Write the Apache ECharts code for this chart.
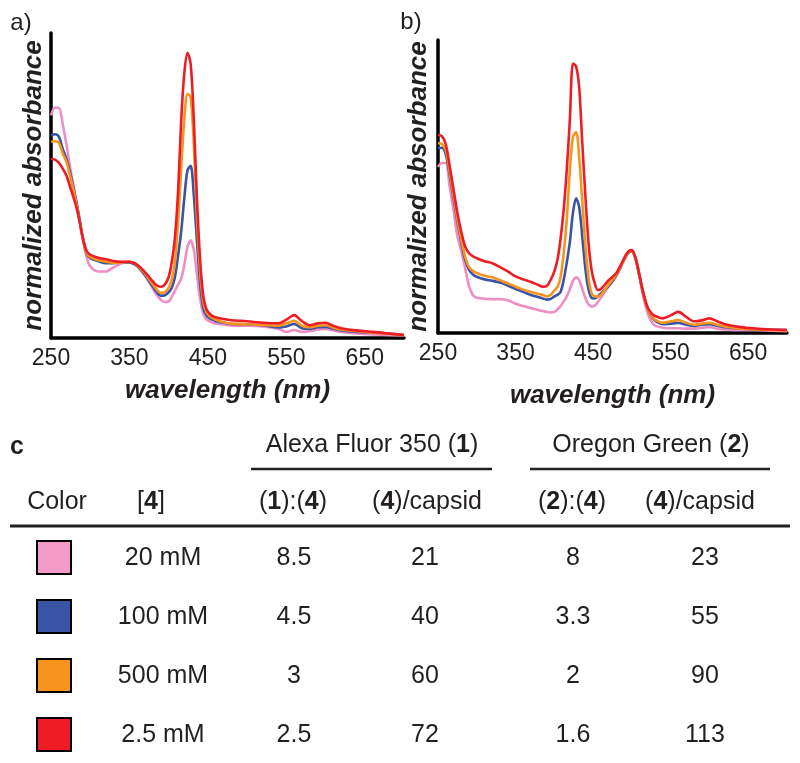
<!DOCTYPE html>
<html><head><meta charset="utf-8">
<script src="https://cdn.jsdelivr.net/npm/echarts@6/dist/echarts.min.js"></script>
<style>html,body{margin:0;padding:0;background:#fff}#c{width:800px;height:763px}</style>
</head><body><div id="c"></div>
<script>
// ---------- DATA ----------
const tickLabelsX = [250, 350, 450, 550, 650];
const seriesNames = ['20 mM', '100 mM', '500 mM', '2.5 mM'];
const lineColors = ['#F08DC2', '#3A54A5', '#F7941E', '#EE1D25'];
const swatchColors = ['#F29BC7', '#3A54A5', '#F7941E', '#EE1D25'];

// panel a) Alexa Fluor 350
const wlA = [250,255,260,265,270,275,280,285,290,295,300,310,320,330,340,350,360,370,380,385,390,395,400,404,408,412,416,420,424,428,432,436,440,444,448,452,456,460,470,480,500,520,540,550,560,570,580,590,600,610,620,640,660,680,700];
const pinkA = [.73,.755,.755,.70,.63,.55,.48,.41,.33,.27,.235,.218,.218,.232,.245,.248,.235,.205,.16,.14,.125,.118,.12,.135,.155,.175,.195,.24,.30,.32,.29,.21,.13,.08,.062,.055,.05,.048,.044,.04,.04,.038,.03,.02,.026,.02,.022,.028,.03,.025,.02,.015,.012,.01,.008];
const blueA = [.665,.668,.66,.62,.585,.535,.475,.41,.335,.28,.262,.252,.245,.245,.248,.248,.235,.205,.168,.15,.138,.14,.15,.165,.2,.27,.35,.46,.55,.565,.47,.32,.18,.10,.075,.065,.06,.055,.05,.046,.045,.042,.035,.038,.046,.032,.03,.035,.036,.03,.025,.02,.018,.015,.01];
const orangeA = [.643,.645,.64,.605,.575,.525,.47,.405,.335,.282,.266,.256,.25,.247,.248,.25,.238,.21,.175,.158,.148,.15,.165,.19,.25,.38,.56,.72,.80,.79,.64,.40,.22,.12,.085,.072,.065,.06,.052,.047,.045,.043,.04,.048,.056,.04,.035,.04,.042,.034,.028,.022,.018,.014,.01];
const redA = [.587,.585,.575,.555,.53,.49,.45,.40,.335,.288,.273,.263,.258,.252,.25,.25,.24,.215,.185,.172,.168,.175,.2,.25,.33,.48,.715,.87,.934,.90,.72,.46,.26,.14,.095,.08,.072,.068,.062,.058,.055,.05,.048,.06,.075,.055,.042,.048,.05,.04,.032,.025,.02,.015,.01];

// panel b) Oregon Green
const wlB = [250,255,260,265,270,275,280,285,290,295,300,310,320,330,340,350,360,370,380,385,390,395,400,404,408,412,416,420,424,428,432,436,440,444,448,452,456,460,470,480,490,495,500,505,510,515,520,525,530,540,550,560,570,580,590,600,610,620,640,660,680,700];
const pinkB = [.567,.58,.58,.50,.42,.33,.28,.22,.16,.13,.12,.117,.115,.115,.112,.10,.092,.085,.078,.075,.072,.07,.072,.08,.092,.108,.124,.15,.178,.19,.18,.15,.12,.098,.09,.093,.105,.12,.16,.195,.25,.272,.278,.25,.19,.12,.07,.04,.025,.018,.016,.016,.015,.015,.018,.02,.015,.012,.01,.01,.008,.006];
const blueB = [.631,.632,.61,.54,.46,.38,.31,.25,.215,.20,.192,.183,.178,.172,.162,.15,.14,.13,.122,.118,.114,.116,.125,.13,.14,.18,.24,.31,.41,.46,.43,.33,.22,.15,.12,.118,.125,.135,.16,.198,.25,.272,.278,.25,.19,.13,.085,.058,.042,.03,.032,.034,.028,.024,.028,.03,.025,.02,.015,.012,.012,.01];
const orangeB = [.648,.645,.625,.55,.47,.39,.32,.26,.225,.212,.205,.195,.19,.18,.17,.158,.148,.14,.133,.13,.125,.13,.145,.157,.19,.27,.385,.556,.67,.686,.60,.45,.30,.19,.136,.125,.124,.13,.165,.20,.25,.274,.28,.252,.192,.132,.085,.06,.045,.035,.04,.044,.035,.028,.032,.035,.028,.022,.015,.012,.01,.008];
const redB = [.676,.672,.645,.57,.49,.41,.345,.295,.272,.262,.255,.245,.238,.225,.21,.193,.183,.174,.163,.158,.16,.18,.21,.25,.32,.42,.556,.727,.92,.91,.84,.65,.47,.31,.215,.17,.147,.15,.18,.205,.255,.278,.283,.255,.195,.135,.09,.068,.058,.05,.06,.072,.055,.04,.043,.05,.04,.03,.02,.015,.012,.01];

// table c)
const concentrations = ['20 mM', '100 mM', '500 mM', '2.5 mM'];
const alexaRatio = ['8.5', '4.5', '3', '2.5'];
const alexaPerCapsid = ['21', '40', '60', '72'];
const oregonRatio = ['8', '3.3', '2', '1.6'];
const oregonPerCapsid = ['23', '55', '90', '113'];

// ---------- STYLE / LAYOUT ----------
const FONT = '"Liberation Sans", Arial, Helvetica, sans-serif';
const INK = '#231F20';
const chart = echarts.init(document.getElementById('c'), null, {renderer: 'canvas'});

function xAxisCfg(gi, gap) {
  return {
    type: 'value', gridIndex: gi, min: 250, max: 700, interval: 50,
    axisLine: {show: true, lineStyle: {color: '#000', width: 3.5}},
    axisTick: {show: false}, splitLine: {show: false},
    axisLabel: {formatter: v => tickLabelsX.includes(v) ? String(v) : '', fontSize: 23, color: INK, margin: 9, fontFamily: FONT, showMaxLabel: false},
    name: 'wavelength (nm)', nameLocation: 'middle', nameGap: gap,
    nameTextStyle: {fontSize: 26, fontWeight: 'bold', fontStyle: 'italic', color: INK, fontFamily: FONT}
  };
}
function yAxisCfg(gi, gap) {
  return {
    type: 'value', gridIndex: gi, min: 0, max: 1,
    axisLine: {show: true, lineStyle: {color: '#000', width: 3.5}},
    axisTick: {show: false}, splitLine: {show: false}, axisLabel: {show: false},
    name: 'normalized absorbance', nameLocation: 'middle', nameGap: gap, nameRotate: 90,
    nameTextStyle: {fontSize: 26, fontWeight: 'bold', fontStyle: 'italic', color: INK, fontFamily: FONT}
  };
}
function lines(gi, wl, arrs) {
  return arrs.map((vals, k) => ({
    type: 'line', name: seriesNames[k], xAxisIndex: gi, yAxisIndex: gi,
    data: wl.map((w, i) => [w, vals[i]]),
    showSymbol: false, smooth: 0.3, z: 2 + k,
    lineStyle: {color: lineColors[k], width: 2.6}, itemStyle: {color: lineColors[k]}
  }));
}

// table graphics
const g = [];
const txt = (x, y, text, extra) => g.push({type: 'text', x, y, style: Object.assign({text, fill: INK, font: '25px ' + FONT, align: 'center', verticalAlign: 'middle', rich: {b: {fontWeight: 'bold', fontSize: 25, fontFamily: FONT, fill: INK}}}, extra || {})});
txt(21, 23, 'a)', {font: '24px ' + FONT});
txt(411, 22, 'b)', {font: '24px ' + FONT});
txt(17, 447, 'c', {font: 'bold 25px ' + FONT});
txt(372, 445, 'Alexa Fluor 350 ({b|1})');
txt(651, 445, 'Oregon Green ({b|2})');
g.push({type: 'line', shape: {x1: 251, y1: 469, x2: 492, y2: 469}, style: {stroke: INK, lineWidth: 2.5}});
g.push({type: 'line', shape: {x1: 530, y1: 469, x2: 770, y2: 469}, style: {stroke: INK, lineWidth: 2.5}});
const hdrY = 502;
txt(57, hdrY, 'Color');
txt(151, hdrY, '[{b|4}]');
txt(293, hdrY, '({b|1}):({b|4})');
txt(427, hdrY, '({b|4})/capsid');
txt(572, hdrY, '({b|2}):({b|4})');
txt(700, hdrY, '({b|4})/capsid');
g.push({type: 'line', shape: {x1: 10, y1: 526, x2: 790, y2: 526}, style: {stroke: INK, lineWidth: 3}});
const colX = [163, 294, 425, 573, 705];
concentrations.forEach((c, i) => {
  const y = 558 + i * 59;
  g.push({type: 'rect', shape: {x: 37, y: y - 17, width: 34, height: 33}, style: {fill: swatchColors[i], stroke: '#000', lineWidth: 2}});
  [c, alexaRatio[i], alexaPerCapsid[i], oregonRatio[i], oregonPerCapsid[i]].forEach((t, j) => txt(colX[j], y, t));
});

chart.setOption({
  animation: false,
  backgroundColor: '#fff',
  grid: [
    {left: 51, top: 33, width: 353, height: 305},
    {left: 438, top: 40, width: 349, height: 293}
  ],
  xAxis: [xAxisCfg(0, 40), xAxisCfg(1, 50)],
  yAxis: [yAxisCfg(0, 4), yAxisCfg(1, 6)],
  series: [...lines(0, wlA, [pinkA, blueA, orangeA, redA]), ...lines(1, wlB, [pinkB, blueB, orangeB, redB])],
  graphic: g
});
</script></body></html>
